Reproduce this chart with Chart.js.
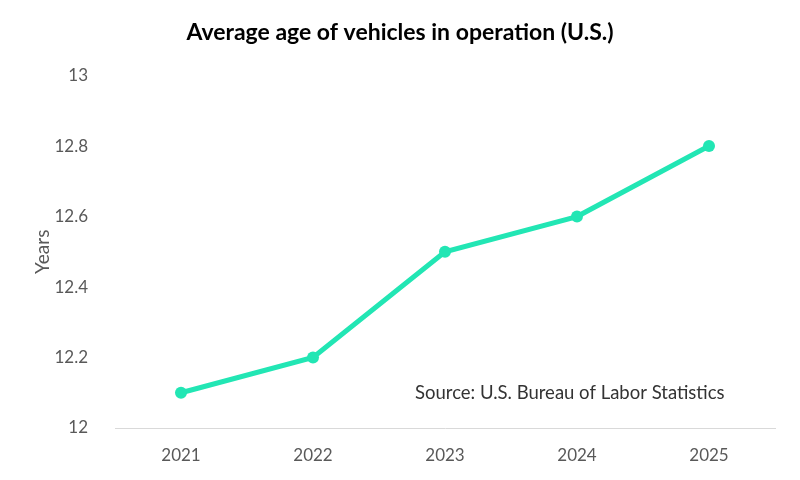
<!DOCTYPE html>
<html>
<head>
<meta charset="utf-8">
<script src="https://cdn.jsdelivr.net/npm/chart.js@4"></script>
<style>
  html, body { margin: 0; padding: 0; background: #fff; }
  canvas { display: block; }
</style>
</head>
<body>
<canvas id="age-chart" width="800" height="480"></canvas>
<script>
// Chart data
const years = ['2021', '2022', '2023', '2024', '2025'];
const averageAge = [12.1, 12.2, 12.5, 12.6, 12.8];
const yTickValues = [12, 12.2, 12.4, 12.6, 12.8, 13];

const FONT = 'Lato, "Open Sans", sans-serif';
const LINE_COLOR = '#22e6b4';

// Draws the source note inside the plot area
const sourceNote = {
    id: 'sourceNote',
    afterDraw(chart) {
        const ctx = chart.ctx;
        ctx.save();
        ctx.font = '18.5px ' + FONT;
        ctx.fillStyle = '#333333';
        ctx.textAlign = 'left';
        ctx.textBaseline = 'middle';
        ctx.fillText('Source: U.S. Bureau of Labor Statistics', 415, 393);
        ctx.restore();
    }
};

const ctx = document.getElementById('age-chart').getContext('2d');
new Chart(ctx, {
    type: 'line',
    data: {
        labels: years,
        datasets: [{
            label: 'Average age',
            data: averageAge,
            borderColor: LINE_COLOR,
            backgroundColor: LINE_COLOR,
            borderWidth: 5,
            pointRadius: 6,
            pointBackgroundColor: LINE_COLOR,
            pointBorderWidth: 0,
            tension: 0
        }]
    },
    options: {
        responsive: false,
        animation: false,
        devicePixelRatio: 1,
        layout: { padding: { left: 25, right: 25, top: 0, bottom: 0 } },
        plugins: {
            legend: { display: false },
            tooltip: { enabled: false },
            title: {
                display: true,
                text: 'Average age of vehicles in operation (U.S.)',
                color: '#000000',
                font: { family: FONT, size: 23, weight: 'bold' },
                padding: { top: 19, bottom: 29 }
            }
        },
        scales: {
            x: {
                offset: true,
                grid: { display: false },
                border: { display: true, color: '#d9d9d9', width: 1 },
                ticks: {
                    color: '#595959',
                    font: { family: FONT, size: 17 },
                    padding: 9,
                    maxRotation: 0
                },
                afterFit: scale => { scale.height = 52; }
            },
            y: {
                min: 12,
                max: 13,
                grid: { display: false },
                border: { display: false },
                afterBuildTicks: scale => {
                    scale.ticks = yTickValues.map(v => ({ value: v }));
                },
                ticks: {
                    color: '#595959',
                    font: { family: FONT, size: 17 },
                    padding: 19,
                    callback: v => String(Math.round(v * 10) / 10)
                },
                title: {
                    display: true,
                    text: 'Years',
                    color: '#595959',
                    font: { family: FONT, size: 19 },
                    padding: { top: 6, bottom: 0 }
                },
                afterFit: scale => { scale.width = 90; }
            }
        }
    },
    plugins: [sourceNote]
});
</script>
</body>
</html>
